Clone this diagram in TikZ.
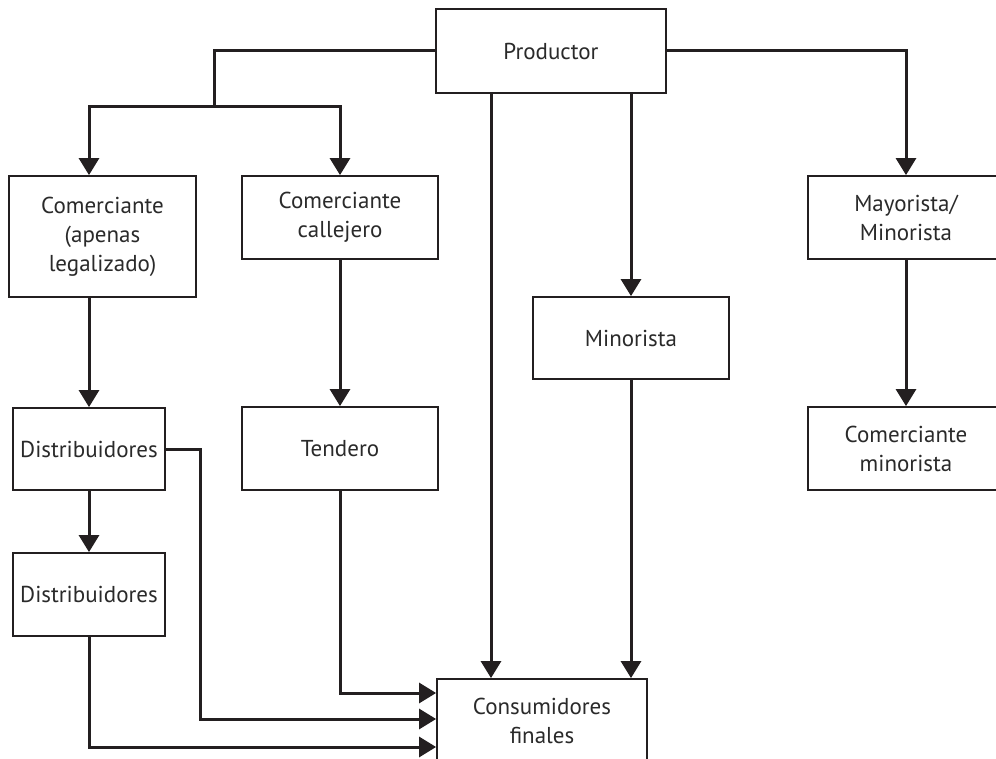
\documentclass[tikz,border=0pt]{standalone}
\usepackage{fontspec}
\setmainfont{PT Sans}
\usetikzlibrary{arrows.meta,calc}
\definecolor{ink}{HTML}{231F20}
\definecolor{txt}{HTML}{2A2A2A}
\begin{document}
\begin{tikzpicture}[x=1pt,y=-1pt,
  box/.style={draw=ink,line width=1.8pt,fill=white,inner sep=0pt,align=center,
    font=\fontsize{23}{29}\selectfont,text=txt},
  arr/.style={draw=ink,line width=3pt,-{Triangle[length=17pt,width=20pt]}},
  ln/.style={draw=ink,line width=3pt}]
\useasboundingbox (0,0) rectangle (996,759);
\node[box,minimum width=230pt,minimum height=84pt] (prod) at (551,51) {Productor};
\node[box,minimum width=187pt,minimum height=121pt] (com1) at (102.5,236.5) {Comerciante\\(apenas\\legalizado)};
\node[box,minimum width=196pt,minimum height=83pt] (com2) at (340,217.5) {Comerciante\\callejero};
\node[box,minimum width=196pt,minimum height=82pt] (mino) at (631,338) {Minorista};
\node[box,minimum width=196pt,minimum height=83pt] (mayo) at (906,217.5) {Mayorista/\\Minorista};
\node[box,minimum width=196pt,minimum height=83pt] (cmin) at (906,448.5) {Comerciante\\minorista};
\node[box,minimum width=152pt,minimum height=82pt] (dist1) at (89,449) {Distribuidores};
\node[box,minimum width=152pt,minimum height=83pt] (dist2) at (89,594.5) {Distribuidores};
\node[box,minimum width=196pt,minimum height=83pt] (tend) at (340,448.5) {Tendero};
\node[box,minimum width=210pt,minimum height=83pt] (cons) at (542,720.5) {Consumidores\\finales};
\coordinate (j) at (214,107);
\coordinate (c1) at (491,0);
\coordinate (r) at (200,0);
\coordinate (in1) at ($(cons.west)+(0,-27.5)$);
\coordinate (in2) at ($(cons.west)+(0,-1.5)$);
\coordinate (in3) at ($(cons.west)+(0,26.5)$);
\draw[ln] (prod.west) -| (j);
\draw[arr] (j) -| (com1.north -| dist1.north);
\draw[arr] (j) -| (com2.north);
\draw[arr] (prod.east) -| (mayo.north);
\draw[arr] (prod.south -| c1) -- (cons.north -| c1);
\draw[arr] (prod.south -| mino.north) -- (mino.north);
\draw[arr] (mino.south) -- (cons.north -| mino.south);
\draw[arr] (mayo.south) -- (cmin.north);
\draw[arr] (com1.south -| dist1.north) -- (dist1.north);
\draw[arr] (com2.south) -- (tend.north);
\draw[arr] (dist1.south) -- (dist2.north);
\draw[arr] (tend.south) |- (in1);
\draw[arr] (dist1.east) -| (r |- in2) -- (in2);
\draw[arr] (dist2.south) |- (in3);
\end{tikzpicture}
\end{document}
